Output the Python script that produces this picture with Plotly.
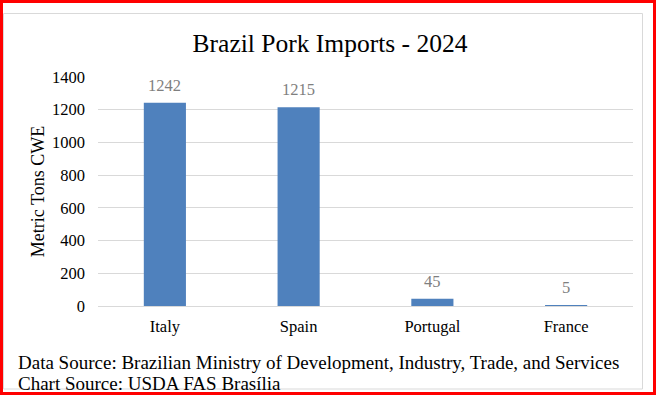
import plotly.graph_objects as go

countries = ["Italy", "Spain", "Portugal", "France"]
imports_cwe = [1242, 1215, 45, 5]
y_ticks = [0, 200, 400, 600, 800, 1000, 1200, 1400]

W, H = 656, 395
ML, MR, MT, MB = 98, 23, 77, 89
PW, PH = W - ML - MR, H - MT - MB

def px_x(x):
    return (x - ML) / PW

def px_y(y):
    return 1 - (y - MT) / PH

serif = "Liberation Serif"

fig = go.Figure()
fig.add_trace(go.Bar(
    x=countries, y=imports_cwe,
    marker=dict(color="#4f81bd", line=dict(width=0)),
    width=0.315,
    hoverinfo="skip",
))

for c, v in zip(countries, imports_cwe):
    fig.add_annotation(x=c, y=v, xref="x", yref="y", text=str(v),
                       showarrow=False, yanchor="bottom", yshift=6,
                       font=dict(family=serif, size=16.5, color="#7f7f7f"))

fig.add_annotation(x=px_x(16), y=px_y(362.5), xref="paper", yref="paper",
                   xanchor="left", yanchor="middle", showarrow=False,
                   text="Data Source: Brazilian Ministry of Development, Industry, Trade, and Services",
                   font=dict(family=serif, size=19, color="#000000"))
fig.add_annotation(x=px_x(16), y=px_y(383), xref="paper", yref="paper",
                   xanchor="left", yanchor="middle", showarrow=False,
                   text="Chart Source: USDA FAS Brasília",
                   font=dict(family=serif, size=19, color="#000000"))

# inner light border
fig.add_shape(type="rect", xref="paper", yref="paper",
              x0=px_x(3.5), x1=px_x(642.5), y0=px_y(389), y1=px_y(13.5),
              line=dict(color="#d9d9d9", width=1), fillcolor="rgba(0,0,0,0)", layer="below")
# red outer border
fig.add_shape(type="rect", xref="paper", yref="paper",
              x0=px_x(1.5), x1=px_x(654.5), y0=px_y(393.5), y1=px_y(1.5),
              line=dict(color="#ff0000", width=3), fillcolor="rgba(0,0,0,0)")

fig.update_layout(
    width=W, height=H,
    margin=dict(l=ML, r=MR, t=MT, b=MB),
    paper_bgcolor="white", plot_bgcolor="white",
    showlegend=False,
    font=dict(family=serif),
    title=dict(text="Brazil Pork Imports - 2024", x=330 / W, xanchor="center",
               y=1 - 43 / H, yanchor="middle", yref="container", xref="container",
               font=dict(family=serif, size=25.5, color="#000000")),
    xaxis=dict(showline=True, linecolor="#d9d9d9", linewidth=1, ticks="",
               tickfont=dict(family=serif, size=16.5, color="#000000"),
               ticklabelstandoff=5, showgrid=False, fixedrange=True),
    yaxis=dict(range=[0, 1400], tickvals=y_ticks, showgrid=True, gridcolor="#d9d9d9",
               gridwidth=1, zeroline=False, showline=False, ticks="",
               ticklabelstandoff=12,
               tickfont=dict(family=serif, size=16.5, color="#000000"),
               title=dict(text="Metric Tons CWE", standoff=2,
                          font=dict(family=serif, size=18, color="#000000")),
               fixedrange=True),
)

fig.write_html("out.html", config={"displayModeBar": False},
               post_script="document.body.style.margin='0';document.body.style.padding='0';")
